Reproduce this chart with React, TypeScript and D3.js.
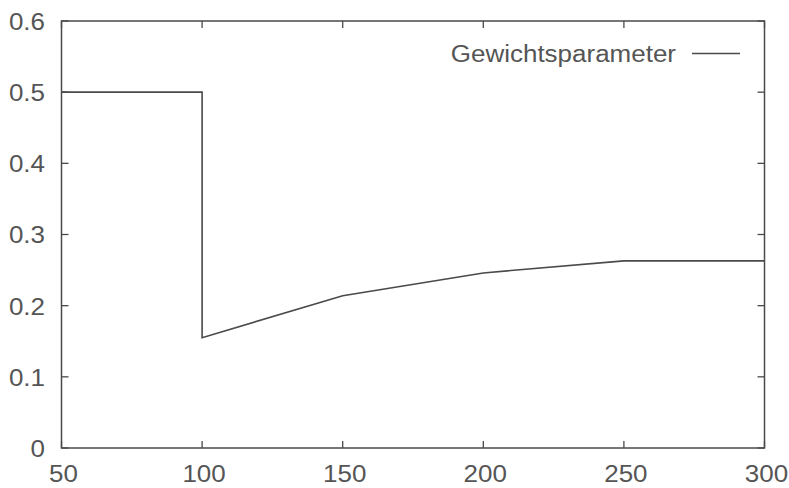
import * as d3 from 'd3';
import { useEffect, useRef } from 'react';

// Gewichtsparameter über die Zeit (Sprung bei 100)
const xValues = [50, 100, 100, 150, 200, 250, 300];
const weightValues = [0.5, 0.5, 0.155, 0.214, 0.246, 0.263, 0.263];
const xTicks = [50, 100, 150, 200, 250, 300];
const yTicks = [0, 0.1, 0.2, 0.3, 0.4, 0.5, 0.6];
const seriesName = 'Gewichtsparameter';

export default function App() {
  const ref = useRef<SVGSVGElement | null>(null);

  useEffect(() => {
    const svg = d3.select(ref.current);
    svg.selectAll('*').remove();

    const width = 789, height = 488;
    const margin = { top: 21, right: 24.5, bottom: 40, left: 61.5 };
    const ink = '#4a4a4a';
    const textInk = '#555';
    const font = '"Liberation Sans", Arial, Helvetica, sans-serif';
    const fs = 23, sx = 1.13;

    const x = d3.scaleLinear().domain([50, 300]).range([margin.left, width - margin.right]);
    const y = d3.scaleLinear().domain([0, 0.6]).range([height - margin.bottom, margin.top]);

    svg.append('rect').attr('width', width).attr('height', height).attr('fill', '#fff');

    const tickLen = 7;
    const ticks = svg.append('g').attr('stroke', ink).attr('stroke-width', 1.3);
    xTicks.forEach((t) => {
      ticks.append('line').attr('x1', x(t)).attr('x2', x(t)).attr('y1', y(0)).attr('y2', y(0) - tickLen);
      ticks.append('line').attr('x1', x(t)).attr('x2', x(t)).attr('y1', y(0.6)).attr('y2', y(0.6) + tickLen);
    });
    yTicks.forEach((t) => {
      ticks.append('line').attr('x1', x(50)).attr('x2', x(50) + tickLen).attr('y1', y(t)).attr('y2', y(t));
      ticks.append('line').attr('x1', x(300)).attr('x2', x(300) - tickLen).attr('y1', y(t)).attr('y2', y(t));
    });

    svg.append('rect')
      .attr('x', x(50)).attr('y', y(0.6))
      .attr('width', x(300) - x(50)).attr('height', y(0) - y(0.6))
      .attr('fill', 'none').attr('stroke', ink).attr('stroke-width', 1.5);

    const label = (tx: number, ty: number, s: string, anchor: string) => {
      svg.append('g')
        .attr('transform', `translate(${tx},${ty}) scale(${sx},1)`)
        .append('text')
        .attr('text-anchor', anchor)
        .attr('dominant-baseline', 'central')
        .attr('font-family', font).attr('font-size', fs).attr('fill', textInk)
        .text(s);
    };

    yTicks.forEach((t) => label(45, y(t) + 1, d3.format('~g')(t), 'end'));
    xTicks.forEach((t) => label(x(t) + 2, 474, String(t), 'middle'));

    const line = d3.line<number>()
      .x((_, i) => x(xValues[i]))
      .y((d) => y(d));

    svg.append('path')
      .datum(weightValues)
      .attr('d', line)
      .attr('fill', 'none')
      .attr('stroke', ink)
      .attr('stroke-width', 1.6)
      .attr('stroke-linejoin', 'miter');

    // legend
    label(676, 54, seriesName, 'end');
    svg.append('line')
      .attr('x1', 692).attr('x2', 740).attr('y1', 53.5).attr('y2', 53.5)
      .attr('stroke', ink).attr('stroke-width', 1.5);
  }, []);

  return (
    <svg
      ref={ref}
      width={789}
      height={488}
      style={{ position: 'absolute', left: 0, top: 0, display: 'block' }}
    />
  );
}
